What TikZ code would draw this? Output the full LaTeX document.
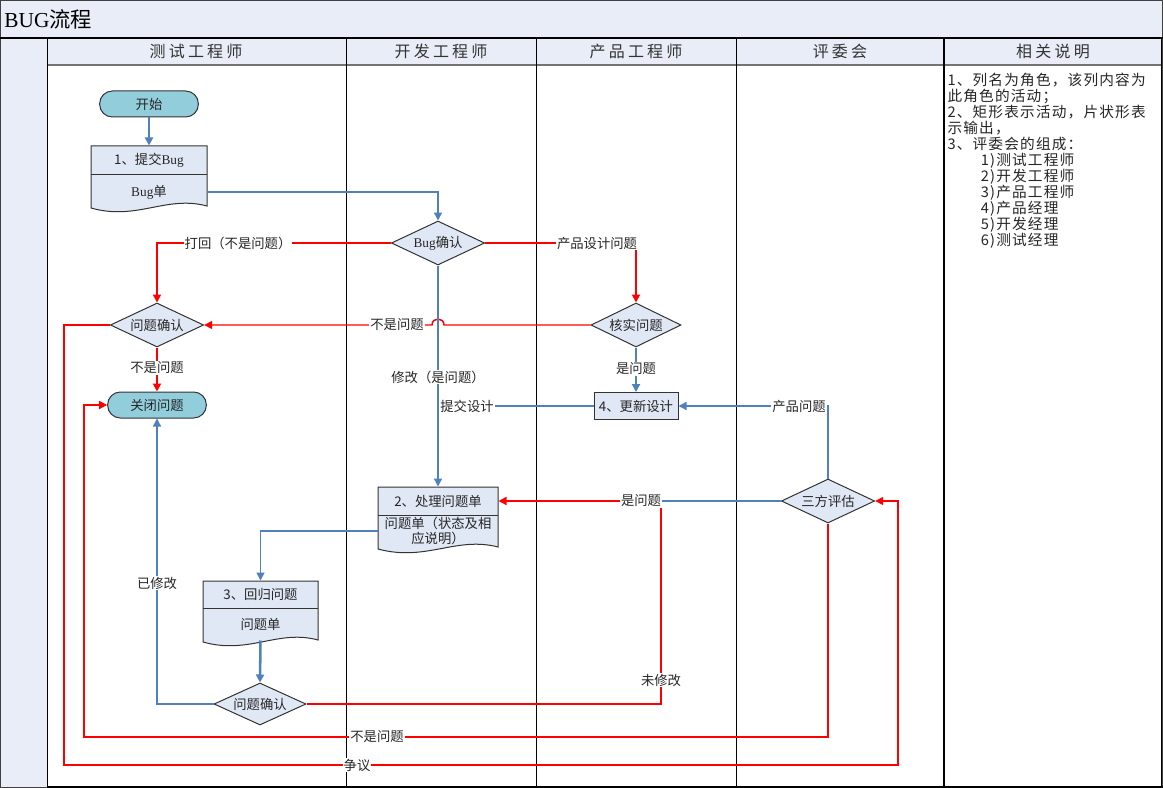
\documentclass[tikz,border=0pt]{standalone}
\usepackage{fontspec}
\setmainfont{Noto Sans CJK SC}
\newfontfamily\latfont{Liberation Serif}
\newfontfamily\lanefont[LetterSpace=20]{Noto Sans CJK SC}
\newfontfamily\notesfont[LetterSpace=8]{Noto Sans CJK SC}
\usetikzlibrary{shapes.geometric,arrows.meta}

\definecolor{hdrfill}{RGB}{232,237,247}
\definecolor{boxfill}{RGB}{225,232,245}
\definecolor{termfill}{RGB}{146,205,220}
\definecolor{flowblue}{RGB}{79,129,189}
\definecolor{flowred}{RGB}{255,0,0}

\tikzset{every picture/.style={line width=0.75pt}}
\tikzset{
  lanetext/.style={font=\lanefont\fontsize{12}{14}\selectfont,text=black!80,inner sep=0pt},
  flowfont/.style={font=\fontsize{10}{11.5}\selectfont,text=black!85},
  term/.style={flowfont,draw=black!80,fill=termfill,rounded corners=9.5pt,minimum width=74pt,minimum height=19.5pt,inner sep=0pt},
  decision/.style={flowfont,diamond,aspect=2.1,draw=black!80,fill=boxfill,inner sep=0pt,minimum width=70pt,minimum height=33pt},
  procbox/.style={flowfont,draw=black!80,fill=boxfill,inner sep=0pt,minimum width=63pt,minimum height=20.25pt},
  docbox/.style={draw=black!80,fill=boxfill},
  doctext/.style={flowfont,inner sep=0pt,align=center},
  blueline/.style={draw=flowblue,line width=1.1pt},
  redline/.style={draw=flowred,line width=1.1pt},
  arrowed/.style={-{Triangle[length=6pt,width=6pt]}},
  linelabel/.style={flowfont,fill=white,inner sep=0.8pt}
}

\begin{document}
\begin{tikzpicture}[x=0.75pt,y=0.75pt,yscale=-1,xscale=1]
\useasboundingbox (0,0) rectangle (1163,788);

%Frame and lanes
\fill[hdrfill] (0,0) rectangle (1163,788);
\fill[white] (47,65) rectangle (1162,786);
\draw[black!75] (0.5,0.5) rectangle (1162.5,787.5);
\draw[line width=1.5pt] (0,38) -- (1163,38);
\draw[black!55,line width=1.5pt] (47,65) -- (1162,65);
\draw (47,38) -- (47,787);
\draw (346,38) -- (346,787);
\draw (536,38) -- (536,787);
\draw (736,38) -- (736,787);
\draw[line width=1.5pt] (944,38) -- (944,787);
\draw (1161.5,38) -- (1161.5,787);
\draw[line width=1.5pt] (47,786.5) -- (1163,786.5);

% Text Node
\node[anchor=west,inner sep=0pt,font=\fontsize{16}{18}\selectfont] (title) at (4,19) {{\latfont BUG}流程};
\node[lanetext] (lane1) at (196,51) {测试工程师};
\node[lanetext] (lane2) at (441,51) {开发工程师};
\node[lanetext] (lane3) at (636,51) {产品工程师};
\node[lanetext] (lane4) at (840,51) {评委会};
\node[lanetext] (lane5) at (1053,51) {相关说明};

% Text Node
\node[anchor=north west,align=left,inner sep=0pt,text=black!85,font=\notesfont\fontsize{11}{12}\selectfont] (notes) at (947,73) {%
1、列名为角色，该列内容为\\
此角色的活动；\\
2、矩形表示活动，片状形表\\
示输出，\\
3、评委会的组成：\\
\hspace*{25pt}1)测试工程师\\
\hspace*{25pt}2)开发工程师\\
\hspace*{25pt}3)产品工程师\\
\hspace*{25pt}4)产品经理\\
\hspace*{25pt}5)开发经理\\
\hspace*{25pt}6)测试经理};

%Shape: Document
\draw[docbox] (91,146) -- (207,146) -- (207,206) .. controls (166,195) and (137,221) .. (91,208) -- cycle;
\draw[black!80] (91,175) -- (207,175);
\draw[docbox] (378,487) -- (498,487) -- (498,547) .. controls (456,536) and (426,562) .. (378,549) -- cycle;
\draw[black!80] (378,515) -- (498,515);
\draw[docbox] (203,581) -- (318,581) -- (318,640) .. controls (278,629) and (249,655) .. (203,642) -- cycle;
\draw[black!80] (203,608) -- (318,608);

%Nodes
\node[term] (start) at (149,104) {开始};
\node[doctext,minimum width=87pt,minimum height=21.75pt] (doc1) at (149,160.5) {1、提交{\latfont Bug}};
\node[doctext,minimum width=87pt,minimum height=22.5pt] (doc1o) at (149,192) {{\latfont Bug}单};
\node[decision] (bugqr) at (438,243) {{\latfont Bug}确认};
\node[decision] (wt1) at (157,325) {问题确认};
\node[decision,minimum width=67.5pt] (kh) at (636,325) {核实问题};
\node[term] (close) at (157,405) {关闭问题};
\node[procbox] (upd) at (636,406) {4、更新设计};
\node[decision] (sf) at (828,501) {三方评估};
\node[doctext,minimum width=90pt,minimum height=21pt] (doc2) at (438,501) {2、处理问题单};
\node[doctext,minimum width=90pt,minimum height=24pt] (doc2o) at (438,531) {问题单（状态及相\\应说明）};
\node[doctext,minimum width=86.25pt,minimum height=20.25pt] (doc3) at (260.5,594.5) {3、回归问题};
\node[doctext,minimum width=86.25pt,minimum height=24pt] (doc3o) at (260.5,624) {问题单};
\node[decision,minimum width=69pt,minimum height=31.5pt] (wt2) at (260,704) {问题确认};

\coordinate (j2) at (661,501);
\coordinate (c1) at (84,737);
\coordinate (c2) at (64,765);
\coordinate (c3) at (898,765);

%Connectors
\draw[blueline,line width=1.9pt,arrowed] (start.south) -- (doc1.north);
\draw[blueline,arrowed] (doc1o.east) -| (bugqr.north);
\draw[redline,arrowed] (bugqr.west) -| (wt1.north);
\draw[redline,line width=1.4pt,arrowed] (bugqr.east) -| (kh.north);
\draw[redline,arrowed] (kh.west) -- (444,325) .. controls (444,317) and (432,317) .. (432,325) -- (wt1.east);
\draw[blueline,arrowed] (bugqr.south) -- (bugqr.south |- doc2.north);
\draw[redline,line width=1.4pt,arrowed] (wt1.south) -- (close.north);
\draw[blueline,line width=1.9pt,arrowed] (kh.south) -- (upd.north);
\draw[blueline] (upd.west) -- (upd.west -| bugqr.south);
\draw[blueline,arrowed] (sf.north) |- (upd.east);
\draw[blueline] (sf.west) -- (j2);
\draw[redline,arrowed] (wt2.east) -| (j2) -- (doc2.east);
\draw[blueline,arrowed] (doc2o.west) -| (doc3.north);
\draw[blueline,line width=1.9pt,arrowed] (doc3o.south) -- (wt2.north);
\draw[blueline,arrowed] (wt2.west) -| (close.south);
\draw[redline,arrowed] (sf.south) |- (c1) |- (close.west);
\draw[redline,arrowed] (wt1.west) -| (c2) -- (c3) |- (sf.east);

%Labels
\node[linelabel] (lb1) at (238,243) {打回（不是问题）};
\node[linelabel] (lb2) at (597,243) {产品设计问题};
\node[linelabel] (lb3) at (397,325) {不是问题};
\node[linelabel] (lb4) at (438,377) {修改（是问题）};
\node[linelabel] (lb5) at (157,368) {不是问题};
\node[linelabel] (lb6) at (636,369) {是问题};
\node[linelabel] (lb7) at (467,406) {提交设计};
\node[linelabel] (lb8) at (799,406) {产品问题};
\node[linelabel] (lb9) at (641,501) {是问题};
\node[linelabel] (lb10) at (661,680) {未修改};
\node[linelabel] (lb11) at (157,583) {已修改};
\node[linelabel] (lb12) at (377,737) {不是问题};
\node[linelabel] (lb13) at (357,765) {争议};

\end{tikzpicture}
\end{document}
